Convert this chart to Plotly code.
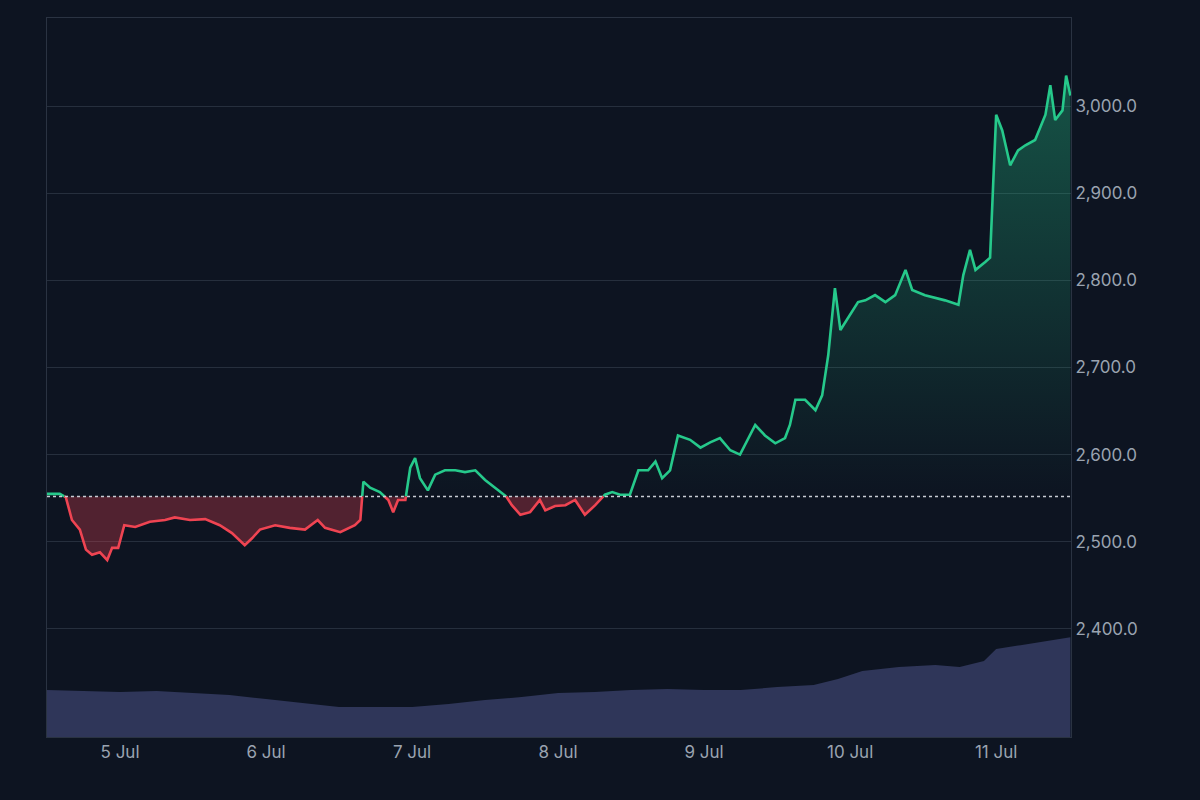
import plotly.graph_objects as go
import pandas as pd

start = pd.Timestamp("2024-07-04 12:00")
hours = [0,2.1,3.1,4.1,5.4,6.4,7.4,8.7,9.9,10.7,11.7,12.7,14.5,16.9,19.4,21,23.5,26,28.4,30.4,32.5,33.7,35,37.5,39.9,42.4,44.5,45.7,48.2,50.6,51.5,52,53.1,54.7,56.1,56.9,57.7,58.9,59.7,60.5,61.3,62.6,63.8,65.4,67.1,68.7,70.4,72,73.7,75.3,76.4,77.8,79.4,81,81.9,83.5,85.2,86.8,88.4,90.1,91.7,92.9,94.2,95.8,97.2,98.8,100,101.1,102.4,103.7,105.7,107.4,109,110.6,112.3,113.9,115.2,116.4,118,119.7,121.3,122.1,123,124.6,126.3,127.4,128.4,129.5,130.4,131.7,133.3,134.5,136.1,137.8,139.4,141.1,142.2,144.3,146,147.6,149.8,150.6,151.7,152.6,154.2,155,155.5,156,157,158.3,159.6,160.8,162.4,164.1,164.9,165.7,166.9,167.5,168.2]
prices = [2555,2555,2551,2525,2514,2491,2485,2488,2479,2493,
          2493,2519,2517,2523,2525,2528,2525,2526,2519,2510,
          2496,2504,2514,2519,2516,2514,2525,2516,2511,2519,
          2525,2569,2562,2557,2548,2534,2548,2548,2585,2596,
          2573,2559,2577,2582,2582,2580,2582,2571,2562,2554,
          2542,2531,2534,2548,2536,2541,2542,2548,2531,2542,
          2554,2557,2554,2554,2582,2582,2592,2573,2582,2622,
          2617,2608,2614,2619,2605,2600,2617,2634,2622,2613,
          2619,2634,2663,2663,2651,2668,2714,2791,2743,2757,
          2775,2777,2783,2775,2783,2812,2789,2783,2780,2777,
          2772,2806,2835,2812,2821,2826,2909,2990,2972,2932,
          2949,2955,2961,2990,3024,2984,2995,3035,3012]
base = 2552

vol_hours = [0,6,12,18,24,30,36,42,48,54,60,66,72,78,84,90,96,102,108,114,120,126,130,134,140,146,150,154,156,160,164,168.2]
vol_vals = [47,46,45,46,44,42,38,34,30,30,30,33,37,40,44,45,47,48,47,47,50,52,58,66,70,72,70,76,88,92,96,100]
price_ticks = [2400, 2500, 2600, 2700, 2800, 2900, 3000]

n = min(len(hours), len(prices))
T, P = [], []
for i in range(n):
    if i > 0:
        p0, p1 = prices[i-1], prices[i]
        if (p0 - base) * (p1 - base) < 0:
            f = (base - p0) / (p1 - p0)
            T.append(hours[i-1] + f * (hours[i] - hours[i-1])); P.append(base)
    T.append(hours[i]); P.append(prices[i])
X = [start + pd.Timedelta(hours=h) for h in T]
up = [max(p, base) for p in P]
dn = [min(p, base) for p in P]
gline = [p if p >= base else None for p in P]
rline = [p if p <= base else None for p in P]

green = "#26c98b"; red = "#ef4452"
fig = go.Figure()
fig.add_trace(go.Scatter(x=[start + pd.Timedelta(hours=h) for h in vol_hours], y=vol_vals, yaxis="y2",
                         fill="tozeroy", mode="lines", line=dict(color="#2f3659", width=0),
                         fillcolor="#2f3659", hoverinfo="skip"))
fig.add_trace(go.Scatter(x=X, y=[base]*len(X), mode="lines", line=dict(width=0), hoverinfo="skip"))
fig.add_trace(go.Scatter(x=X, y=up, mode="lines", line=dict(width=0), fill="tonexty",
                         fillgradient=dict(type="vertical", colorscale=[[0, "rgba(38,201,139,0)"], [1, "rgba(38,201,139,0.35)"]]),
                         hoverinfo="skip"))
fig.add_trace(go.Scatter(x=X, y=[base]*len(X), mode="lines", line=dict(width=0), hoverinfo="skip"))
fig.add_trace(go.Scatter(x=X, y=dn, mode="lines", line=dict(width=0), fill="tonexty",
                         fillcolor="rgba(239,68,82,0.3)", hoverinfo="skip"))
fig.add_trace(go.Scatter(x=X, y=gline, mode="lines", line=dict(color=green, width=2.6), connectgaps=False))
fig.add_trace(go.Scatter(x=X, y=rline, mode="lines", line=dict(color=red, width=2.6), connectgaps=False))

x0 = start; x1 = start + pd.Timedelta(hours=168.3)
fig.add_shape(type="line", xref="paper", x0=0, x1=1, yref="y", y0=base, y1=base,
              line=dict(color="#c8ccd4", width=1.5, dash="dot"))
bg = "#0d1421"
fig.update_layout(
    width=1200, height=800, paper_bgcolor=bg, plot_bgcolor=bg, showlegend=False,
    margin=dict(l=47, r=129, t=18, b=63),
    xaxis=dict(range=[x0, x1], showgrid=False, tickformat="%-d %b", dtick=86400000,
               tick0="2024-07-05", tickfont=dict(color="#9aa3b0", size=17, family="Inter"),
               showline=True, linecolor="#2a3342", mirror=True, zeroline=False, ticks=""),
    yaxis=dict(range=[2276, 3101], side="right", tickvals=price_ticks, tickformat=",.1f",
               gridcolor="#262f3d", tickfont=dict(color="#9aa3b0", size=17, family="Inter"),
               showline=True, linecolor="#2a3342", mirror=True, zeroline=False),
    yaxis2=dict(range=[0, 720], overlaying="y", visible=False),
)
fig.write_html("out.html", config={"displayModeBar": False},
               post_script="document.body.style.margin='0';document.body.style.background='#0d1421';")
